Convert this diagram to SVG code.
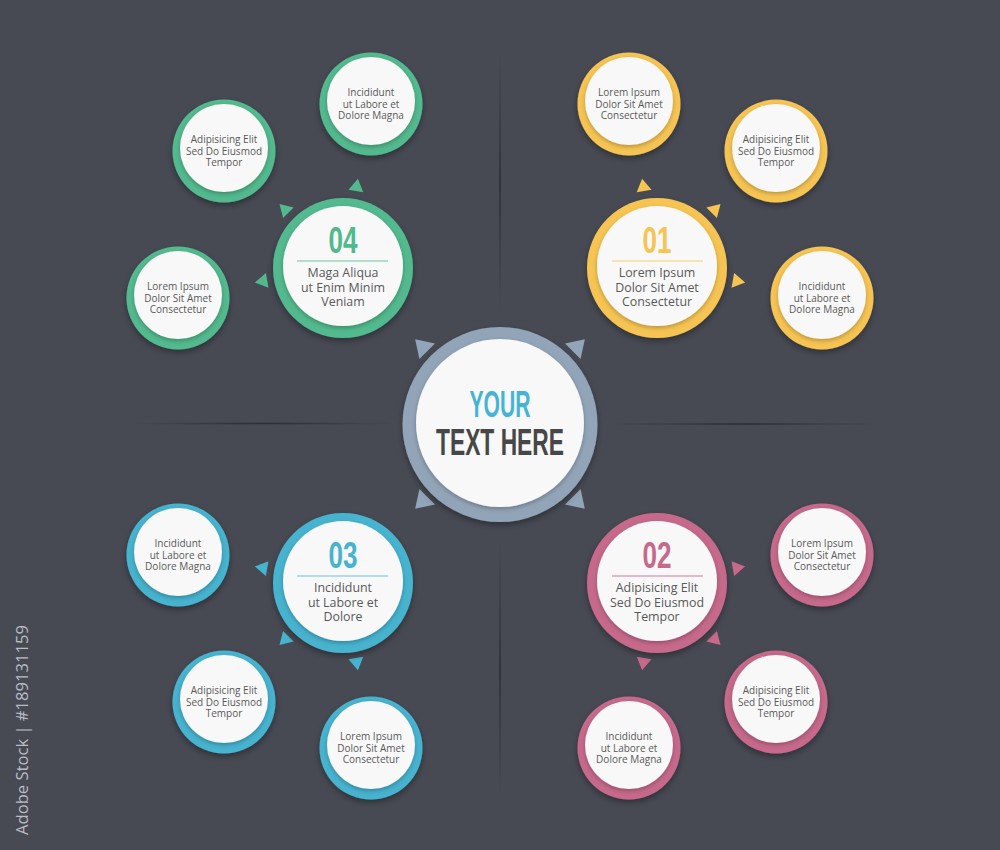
<svg xmlns="http://www.w3.org/2000/svg" width="1000" height="850" viewBox="0 0 1000 850">
<defs>
<style>
.bg{fill:#474a53}
.w{fill:#f8f8f8}
.t{font-family:"Open Sans","Liberation Sans",sans-serif;fill:#585858;text-anchor:middle}
.tm{font-size:12.4px}
.ts{font-size:10px}
.num{font-family:"Liberation Sans","DejaVu Sans Condensed",sans-serif;font-size:36px;font-weight:bold;text-anchor:middle}
.big{font-family:"Liberation Sans",sans-serif;font-weight:bold;text-anchor:middle}
.y{fill:#f6c453}.g{fill:#52b98e}.b{fill:#46b3cf}.p{fill:#c6698b}.c{fill:#92a4b7}
.ly{stroke:#f8dc97}.lg{stroke:#9ad6bd}.lb{stroke:#97d4e4}.lp{stroke:#dfa3b9}
.sep{stroke-width:1.5}
</style>
<filter id="sh" x="-30%" y="-30%" width="160%" height="160%">
<feDropShadow dx="0" dy="3" stdDeviation="3" flood-color="#000" flood-opacity="0.35"/>
</filter>
<filter id="ish" x="-30%" y="-30%" width="160%" height="160%">
<feDropShadow dx="0" dy="2" stdDeviation="2" flood-color="#000" flood-opacity="0.25"/>
</filter>
<linearGradient id="gv" x1="0" y1="0" x2="0" y2="1">
<stop offset="0" stop-color="#2c2e34" stop-opacity="0"/>
<stop offset="0.5" stop-color="#2c2e34" stop-opacity="1"/>
<stop offset="1" stop-color="#2c2e34" stop-opacity="0"/>
</linearGradient>
<linearGradient id="gh" x1="0" y1="0" x2="1" y2="0">
<stop offset="0" stop-color="#2c2e34" stop-opacity="0"/>
<stop offset="0.5" stop-color="#2c2e34" stop-opacity="1"/>
<stop offset="1" stop-color="#2c2e34" stop-opacity="0"/>
</linearGradient>
<polygon id="tri" points="-5,-7.5 7.5,0 -5,7.5"/>
<polygon id="tri2" points="-7,-11 10,0 -7,11"/>
</defs>
<rect class="bg" x="0" y="0" width="1000" height="850"/>

<g id="dividers">
<rect x="499.2" y="50" width="1.6" height="263" fill="url(#gv)"/>
<rect x="499.2" y="537" width="1.6" height="263" fill="url(#gv)"/>
<rect x="130" y="422.7" width="265" height="1.6" fill="url(#gh)"/>
<rect x="607" y="423.2" width="275" height="1.6" fill="url(#gh)"/>
</g>

<g id="connectors">
<g class="c">
<use href="#tri2" transform="translate(500,424) rotate(-135) translate(110,0)"/>
<use href="#tri2" transform="translate(500,424) rotate(-45) translate(110,0)"/>
<use href="#tri2" transform="translate(500,424) rotate(45) translate(110,0)"/>
<use href="#tri2" transform="translate(500,424) rotate(135) translate(110,0)"/>
</g>
<g class="y">
<use href="#tri" transform="translate(657,267) rotate(-99.6) translate(82,0)"/>
<use href="#tri" transform="translate(657,267) rotate(-44.8) translate(82,0)"/>
<use href="#tri" transform="translate(657,267) rotate(10) translate(82,0)"/>
</g>
<g class="g">
<use href="#tri" transform="translate(343,267) rotate(-80.4) translate(82,0)"/>
<use href="#tri" transform="translate(343,267) rotate(-135.2) translate(82,0)"/>
<use href="#tri" transform="translate(343,267) rotate(170) translate(82,0)"/>
</g>
<g class="p">
<use href="#tri" transform="translate(657,582) rotate(99.6) translate(82,0)"/>
<use href="#tri" transform="translate(657,582) rotate(44.8) translate(82,0)"/>
<use href="#tri" transform="translate(657,582) rotate(-10) translate(82,0)"/>
</g>
<g class="b">
<use href="#tri" transform="translate(343,582) rotate(80.4) translate(82,0)"/>
<use href="#tri" transform="translate(343,582) rotate(135.2) translate(82,0)"/>
<use href="#tri" transform="translate(343,582) rotate(-170) translate(82,0)"/>
</g>
</g>

<g id="center">
<circle class="c" cx="500" cy="424.5" r="97.5" filter="url(#sh)"/>
<circle class="w" cx="500" cy="423" r="84" filter="url(#ish)"/>
<text class="big" x="500" y="417" font-size="36" fill="#45b4d4" textLength="61" lengthAdjust="spacingAndGlyphs">YOUR</text>
<text class="big" x="500" y="455" font-size="37" fill="#474747" textLength="128" lengthAdjust="spacingAndGlyphs">TEXT HERE</text>
</g>

<g id="node01">
<circle class="y" cx="657" cy="268" r="70" filter="url(#sh)"/>
<circle class="w" cx="657" cy="266" r="60" filter="url(#ish)"/>
<text class="num y" x="657" y="253" textLength="29" lengthAdjust="spacingAndGlyphs">01</text>
<line class="ly sep" x1="612" y1="261" x2="703" y2="261"/>
<text class="t tm" x="657" y="277">Lorem Ipsum</text>
<text class="t tm" x="657" y="291.5">Dolor Sit Amet</text>
<text class="t tm" x="657" y="306">Consectetur</text>
</g>
<g id="node04">
<circle class="g" cx="343" cy="268" r="70" filter="url(#sh)"/>
<circle class="w" cx="343" cy="266" r="60" filter="url(#ish)"/>
<text class="num g" x="343" y="253" textLength="29" lengthAdjust="spacingAndGlyphs">04</text>
<line class="lg sep" x1="297" y1="261" x2="388" y2="261"/>
<text class="t tm" x="343" y="277">Maga Aliqua</text>
<text class="t tm" x="343" y="291.5">ut Enim Minim</text>
<text class="t tm" x="343" y="306">Veniam</text>
</g>
<g id="node02">
<circle class="p" cx="657" cy="583" r="70" filter="url(#sh)"/>
<circle class="w" cx="657" cy="581" r="60" filter="url(#ish)"/>
<text class="num p" x="657" y="568" textLength="29" lengthAdjust="spacingAndGlyphs">02</text>
<line class="lp sep" x1="612" y1="576" x2="703" y2="576"/>
<text class="t tm" x="657" y="592">Adipisicing Elit</text>
<text class="t tm" x="657" y="606.5">Sed Do Eiusmod</text>
<text class="t tm" x="657" y="621">Tempor</text>
</g>
<g id="node03">
<circle class="b" cx="343" cy="583" r="70" filter="url(#sh)"/>
<circle class="w" cx="343" cy="581" r="60" filter="url(#ish)"/>
<text class="num b" x="343" y="568" textLength="29" lengthAdjust="spacingAndGlyphs">03</text>
<line class="lb sep" x1="297" y1="576" x2="388" y2="576"/>
<text class="t tm" x="343" y="592">Incididunt</text>
<text class="t tm" x="343" y="606.5">ut Labore et</text>
<text class="t tm" x="343" y="621">Dolore</text>
</g>

<g id="sat01a"><circle class="y" cx="629" cy="104" r="51.5" filter="url(#sh)"/><circle class="w" cx="629" cy="101" r="44" filter="url(#ish)"/>
<text class="t ts" x="629" y="96">Lorem Ipsum</text><text class="t ts" x="629" y="107.5">Dolor Sit Amet</text><text class="t ts" x="629" y="119">Consectetur</text></g>
<g id="sat01b"><circle class="y" cx="776" cy="151" r="51.5" filter="url(#sh)"/><circle class="w" cx="776" cy="148" r="44" filter="url(#ish)"/>
<text class="t ts" x="776" y="143">Adipisicing Elit</text><text class="t ts" x="776" y="154.5">Sed Do Eiusmod</text><text class="t ts" x="776" y="166">Tempor</text></g>
<g id="sat01c"><circle class="y" cx="822" cy="298" r="51.5" filter="url(#sh)"/><circle class="w" cx="822" cy="295" r="44" filter="url(#ish)"/>
<text class="t ts" x="822" y="290">Incididunt</text><text class="t ts" x="822" y="301.5">ut Labore et</text><text class="t ts" x="822" y="313">Dolore Magna</text></g>

<g id="sat04a"><circle class="g" cx="371" cy="104" r="51.5" filter="url(#sh)"/><circle class="w" cx="371" cy="101" r="44" filter="url(#ish)"/>
<text class="t ts" x="371" y="96">Incididunt</text><text class="t ts" x="371" y="107.5">ut Labore et</text><text class="t ts" x="371" y="119">Dolore Magna</text></g>
<g id="sat04b"><circle class="g" cx="224" cy="151" r="51.5" filter="url(#sh)"/><circle class="w" cx="224" cy="148" r="44" filter="url(#ish)"/>
<text class="t ts" x="224" y="143">Adipisicing Elit</text><text class="t ts" x="224" y="154.5">Sed Do Eiusmod</text><text class="t ts" x="224" y="166">Tempor</text></g>
<g id="sat04c"><circle class="g" cx="178" cy="298" r="51.5" filter="url(#sh)"/><circle class="w" cx="178" cy="295" r="44" filter="url(#ish)"/>
<text class="t ts" x="178" y="290">Lorem Ipsum</text><text class="t ts" x="178" y="301.5">Dolor Sit Amet</text><text class="t ts" x="178" y="313">Consectetur</text></g>

<g id="sat03a"><circle class="b" cx="178" cy="555" r="51.5" filter="url(#sh)"/><circle class="w" cx="178" cy="552" r="44" filter="url(#ish)"/>
<text class="t ts" x="178" y="547">Incididunt</text><text class="t ts" x="178" y="558.5">ut Labore et</text><text class="t ts" x="178" y="570">Dolore Magna</text></g>
<g id="sat03b"><circle class="b" cx="224" cy="702" r="51.5" filter="url(#sh)"/><circle class="w" cx="224" cy="699" r="44" filter="url(#ish)"/>
<text class="t ts" x="224" y="694">Adipisicing Elit</text><text class="t ts" x="224" y="705.5">Sed Do Eiusmod</text><text class="t ts" x="224" y="717">Tempor</text></g>
<g id="sat03c"><circle class="b" cx="371" cy="748" r="51.5" filter="url(#sh)"/><circle class="w" cx="371" cy="745" r="44" filter="url(#ish)"/>
<text class="t ts" x="371" y="740">Lorem Ipsum</text><text class="t ts" x="371" y="751.5">Dolor Sit Amet</text><text class="t ts" x="371" y="763">Consectetur</text></g>

<g id="sat02a"><circle class="p" cx="822" cy="555" r="51.5" filter="url(#sh)"/><circle class="w" cx="822" cy="552" r="44" filter="url(#ish)"/>
<text class="t ts" x="822" y="547">Lorem Ipsum</text><text class="t ts" x="822" y="558.5">Dolor Sit Amet</text><text class="t ts" x="822" y="570">Consectetur</text></g>
<g id="sat02b"><circle class="p" cx="776" cy="702" r="51.5" filter="url(#sh)"/><circle class="w" cx="776" cy="699" r="44" filter="url(#ish)"/>
<text class="t ts" x="776" y="694">Adipisicing Elit</text><text class="t ts" x="776" y="705.5">Sed Do Eiusmod</text><text class="t ts" x="776" y="717">Tempor</text></g>
<g id="sat02c"><circle class="p" cx="629" cy="748" r="51.5" filter="url(#sh)"/><circle class="w" cx="629" cy="745" r="44" filter="url(#ish)"/>
<text class="t ts" x="629" y="740">Incididunt</text><text class="t ts" x="629" y="751.5">ut Labore et</text><text class="t ts" x="629" y="763">Dolore Magna</text></g>

<text x="0" y="0" transform="translate(28,835) rotate(-90)" font-family="Open Sans,Liberation Sans,sans-serif" font-size="17" fill="#b9bcc3" textLength="210" lengthAdjust="spacingAndGlyphs">Adobe Stock | #189131159</text>
</svg>
